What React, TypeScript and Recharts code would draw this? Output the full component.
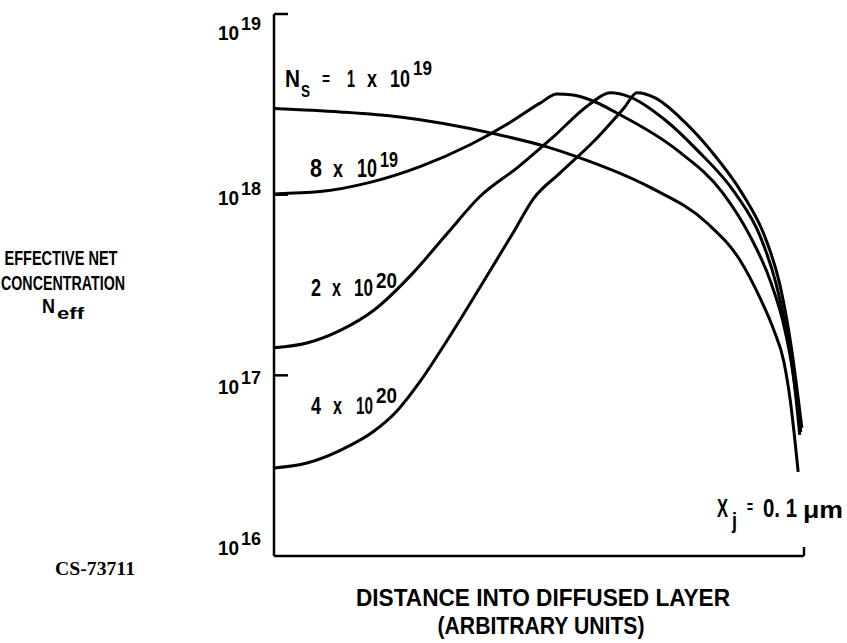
import React from 'react';
import { LineChart, Line, XAxis, YAxis, Customized } from 'recharts';

// Distance into diffused layer (arbitrary units, 0 = surface, 1 = junction X_j)
const distA = [0, 0.1245, 0.2377, 0.417, 0.515, 0.572, 0.709, 0.817, 0.879, 0.917, 0.943, 0.962, 0.974, 0.989];
const neffA = [3.0e18, 2.87e18, 2.69e18, 2.17e18, 1.84e18, 1.62e18, 1.10e18, 6.97e17, 4.35e17, 2.68e17, 1.78e17, 1.19e17, 7.3e16, 2.92e16];

const distB = [0, 0.0868, 0.1811, 0.2755, 0.3698, 0.4453, 0.502, 0.534, 0.564, 0.602, 0.647, 0.760, 0.847, 0.898, 0.9358, 0.964, 0.981, 0.992];
const neffB = [1.01e18, 1.04e18, 1.17e18, 1.43e18, 1.89e18, 2.51e18, 3.21e18, 3.61e18, 3.56e18, 3.30e18, 2.83e18, 1.77e18, 1.02e18, 5.91e17, 3.37e17, 1.78e17, 9.4e16, 4.68e16];

const distC = [0, 0.062, 0.126, 0.189, 0.262, 0.326, 0.389, 0.4604, 0.5264, 0.5962, 0.634, 0.672, 0.738, 0.798, 0.870, 0.917, 0.947, 0.9717, 0.994];
const neffC = [1.42e17, 1.51e17, 1.78e17, 2.30e17, 3.68e17, 6.06e17, 9.8e17, 1.42e18, 2.08e18, 3.18e18, 3.66e18, 3.47e18, 2.59e18, 1.77e18, 1.02e18, 5.91e17, 3.24e17, 1.47e17, 4.86e16];

const distD = [0, 0.062, 0.126, 0.189, 0.232, 0.275, 0.326, 0.389, 0.451, 0.489, 0.540, 0.6038, 0.6604, 0.685, 0.719, 0.775, 0.823, 0.883, 0.9264, 0.9547, 0.9755, 0.996];
const neffD = [3.07e16, 3.27e16, 3.86e16, 4.92e16, 6.35e16, 9.19e16, 1.55e17, 3.08e17, 6.14e17, 9.46e17, 1.32e18, 1.98e18, 3.02e18, 3.66e18, 3.43e18, 2.52e18, 1.77e18, 1.02e18, 5.83e17, 3.16e17, 1.47e17, 5.12e16];

const yTicks = [1e16, 1e17, 1e18, 1e19];
const xTicks = [1];

const toSeries = (xs: number[], ys: number[]) => xs.map((x, i) => ({ x, y: ys[i] }));
const seriesA = toSeries(distA, neffA);
const seriesB = toSeries(distB, neffB);
const seriesC = toSeries(distC, neffC);
const seriesD = toSeries(distD, neffD);

const SANS = "'Liberation Sans', Arial, sans-serif";
const SERIF = "'Liberation Serif','DejaVu Serif',serif";

type TProps = { x: number; y: number; size: number; len?: number; anchor?: 'start' | 'middle' | 'end'; family?: string; children: React.ReactNode };
const T = ({ x, y, size, len, anchor = 'start', family = SANS, children }: TProps) => (
  <text
    x={x}
    y={y}
    fontSize={size}
    fontFamily={family}
    fontWeight="bold"
    fill="#000"
    textAnchor={anchor}
    textLength={len}
    lengthAdjust={len ? 'spacingAndGlyphs' : undefined}
  >
    {children}
  </text>
);

const LABEL_DY: Record<number, number> = { 19: 26, 18: 10, 17: 19, 16: -1 };

const YTick = (props: any) => {
  const { x, y, payload } = props;
  const exp = Math.round(Math.log10(payload.value));
  const dy = LABEL_DY[exp] ?? 10;
  return (
    <g>
      {exp > 16 && <line x1={x} x2={x + 14} y1={y} y2={y} stroke="#000" strokeWidth={2.5} />}
      <T x={x - 56} y={y + dy} size={21} len={21}>10</T>
      <T x={x - 33} y={y + dy - 10} size={18} len={20}>{String(exp)}</T>
    </g>
  );
};

const XTick = (props: any) => {
  const { x, y } = props;
  return <line x1={x} x2={x} y1={y} y2={y - 9} stroke="#000" strokeWidth={2.5} />;
};

const Annotations = () => (
  <g>
    {/* left title */}
    <T x={61} y={265} size={21} len={113} anchor="middle">EFFECTIVE NET</T>
    <T x={63} y={290} size={21} len={124} anchor="middle">CONCENTRATION</T>
    <T x={42} y={313} size={21} len={13}>N</T>
    <T x={57} y={319} size={17} len={27}>eff</T>
    {/* curve labels */}
    <T x={285} y={87} size={24} len={15}>N</T>
    <T x={301} y={97} size={16} len={9}>S</T>
    <T x={322} y={85} size={18} len={8}>=</T>
    <T x={347} y={87} size={24} len={8}>1</T>
    <T x={367} y={87} size={24} len={10}>x</T>
    <T x={390} y={87} size={24} len={20}>10</T>
    <T x={413} y={75} size={21} len={19}>19</T>

    <T x={310} y={177} size={25} len={12}>8</T>
    <T x={333} y={177} size={24} len={10}>x</T>
    <T x={357} y={177} size={25} len={20}>10</T>
    <T x={380} y={167} size={22} len={18}>19</T>

    <T x={311} y={296} size={24} len={10}>2</T>
    <T x={332} y={296} size={24} len={9}>x</T>
    <T x={354} y={296} size={24} len={19}>10</T>
    <T x={376} y={288} size={22} len={21}>20</T>

    <T x={311} y={414} size={24} len={10}>4</T>
    <T x={333} y={414} size={24} len={9}>x</T>
    <T x={356} y={414} size={24} len={17}>10</T>
    <T x={376} y={403} size={22} len={21}>20</T>

    <T x={717} y={517} size={25} len={11}>X</T>
    <T x={732} y={528} size={22} len={5}>j</T>
    <T x={747} y={513} size={18} len={6}>=</T>
    <T x={763} y={517} size={25} len={34}>0. 1</T>
    <T x={803} y={518} size={24} len={40}>μm</T>
    {/* x axis title */}
    <T x={543} y={606} size={24} len={374} anchor="middle">DISTANCE INTO DIFFUSED LAYER</T>
    <T x={541} y={634} size={24} len={207} anchor="middle">(ARBITRARY UNITS)</T>
    {/* figure id */}
    <T x={55} y={575} size={19} len={80} family={SERIF}>CS-73711</T>
  </g>
);

export default function App() {
  return (
    <div style={{ position: 'absolute', left: 0, top: 0 }}>
      <LineChart width={847} height={643} margin={{ top: 14, right: 43, bottom: 57, left: 214 }}>
        <XAxis
          dataKey="x"
          type="number"
          domain={[0, 1]}
          ticks={xTicks}
          tick={<XTick />}
          tickLine={false}
          tickSize={0}
          tickMargin={0}
          height={30}
          axisLine={{ stroke: '#000', strokeWidth: 2.5 }}
          allowDataOverflow
        />
        <YAxis
          dataKey="y"
          type="number"
          scale="log"
          domain={[1e16, 1e19]}
          ticks={yTicks}
          interval={0}
          tick={<YTick />}
          tickLine={false}
          tickSize={0}
          tickMargin={0}
          width={60}
          axisLine={{ stroke: '#000', strokeWidth: 2.5 }}
          allowDataOverflow
        />
        <Line data={seriesA} dataKey="y" name="1 x 10^19" type="monotone" stroke="#000" strokeWidth={3} dot={false} isAnimationActive={false} />
        <Line data={seriesB} dataKey="y" name="8 x 10^19" type="monotone" stroke="#000" strokeWidth={3} dot={false} isAnimationActive={false} />
        <Line data={seriesC} dataKey="y" name="2 x 10^20" type="monotone" stroke="#000" strokeWidth={3} dot={false} isAnimationActive={false} />
        <Line data={seriesD} dataKey="y" name="4 x 10^20" type="monotone" stroke="#000" strokeWidth={3} dot={false} isAnimationActive={false} />
        <Customized component={Annotations} />
      </LineChart>
    </div>
  );
}
